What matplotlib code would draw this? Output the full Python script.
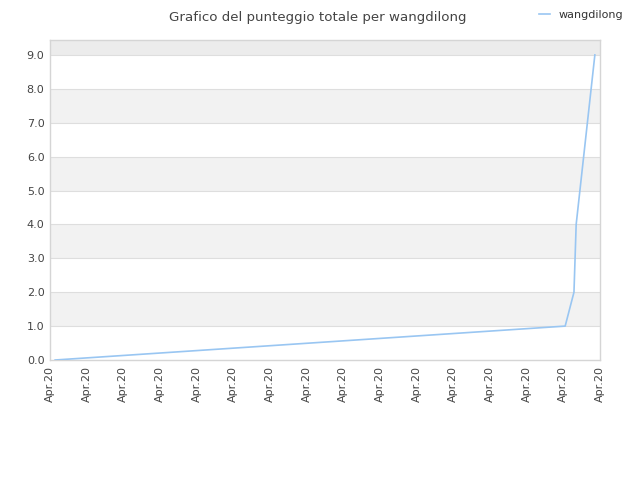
import numpy as np
import matplotlib
matplotlib.use("Agg")
import matplotlib.pyplot as plt

# data (x in tick units, 15 intervals between "Apr.20" ticks)
giorni = [0.14, 14.05, 14.29, 14.35, 14.86]
punteggio = [0.0, 1.0, 2.0, 4.0, 9.0]
etichette = ["Apr.20"] * 16
yticks = [0.0, 1.0, 2.0, 3.0, 4.0, 5.0, 6.0, 7.0, 8.0, 9.0]

fig = plt.figure(figsize=(6.4, 4.8), dpi=100)
ax = fig.add_axes([50/640, 1 - 360/480, 550/640, 320/480])

ymax = 9.44
# alternating bands
for i in range(9):
    if i % 2 == 1:
        ax.axhspan(i, i + 1, color="#f2f2f2", zorder=0, lw=0)
ax.axhspan(9, ymax, color="#ececec", zorder=0, lw=0)
for y in yticks[1:]:
    ax.axhline(y, color="#dedede", lw=0.8, zorder=1)

ax.plot(giorni, punteggio, color="#99c6f2", lw=1.2, label="wangdilong", zorder=3)

ax.set_xlim(0, 15)
ax.set_ylim(0, ymax)
ax.set_xticks(range(16))
ax.set_xticklabels(etichette, rotation=90, fontsize=8, color="#444444")
ax.set_yticks(yticks)
ax.set_yticklabels(["%.1f" % v for v in yticks], fontsize=8, color="#444444")
ax.tick_params(length=0, pad=4)
for s in ax.spines.values():
    s.set_color("#d5d5d5")
    s.set_linewidth(1)

fig.text(0.497, 0.977, "Grafico del punteggio totale per wangdilong", ha="center", va="top",
         fontsize=9.6, color="#444444")
fig.legend(loc="upper right", bbox_to_anchor=(0.99, 1.0), frameon=False, fontsize=8,
           handlelength=1.0, labelcolor="#333333")

fig.savefig("out.png", dpi=100)
